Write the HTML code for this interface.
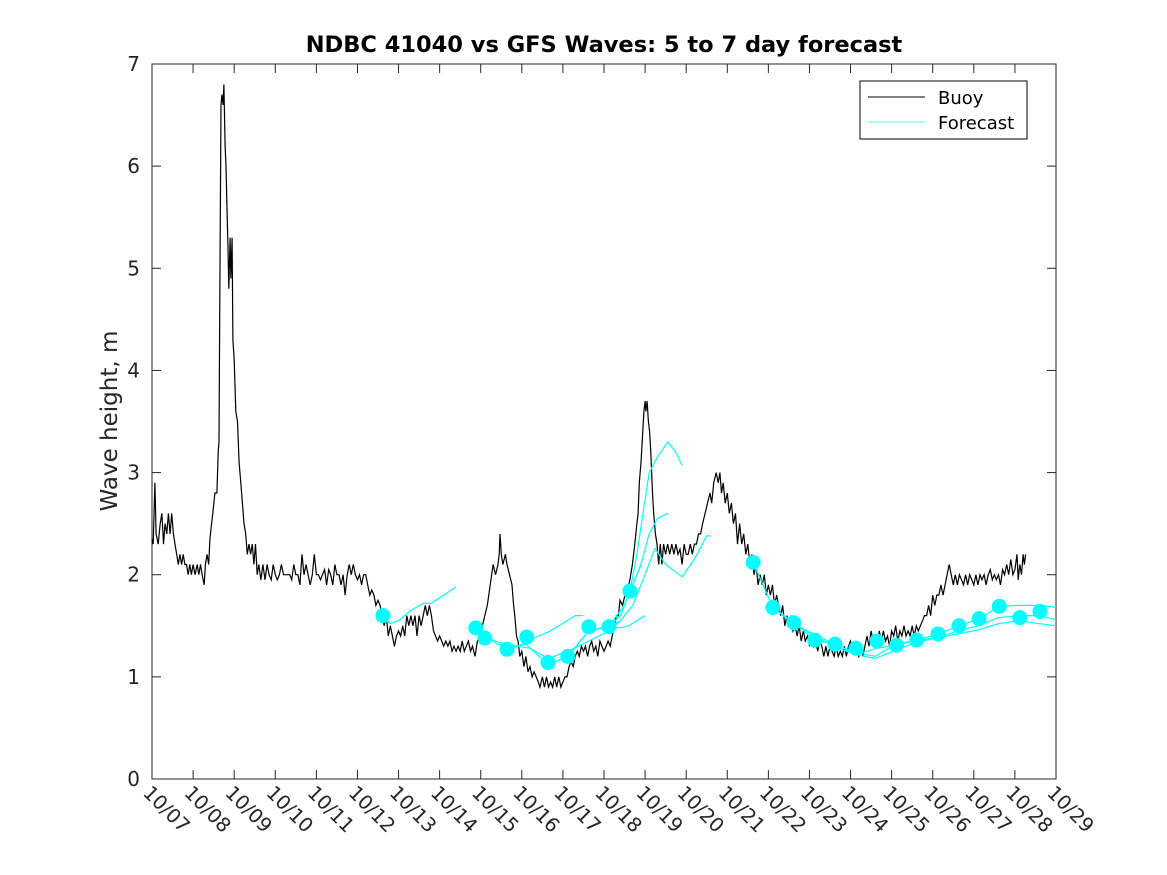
<!DOCTYPE html>
<html><head><meta charset="utf-8"><style>
body{margin:0;background:#fff}
svg{display:block;font-family:"DejaVu Sans","Liberation Sans",sans-serif}
</style></head><body>
<svg id="chart" width="1167" height="875" viewBox="0 0 1167 875">
<rect width="1167" height="875" fill="#fff"/>
<text x="604" y="52" text-anchor="middle" font-size="22.5" font-weight="bold">NDBC 41040 vs GFS Waves: 5 to 7 day forecast</text>
<text transform="translate(117,421) rotate(-90)" text-anchor="middle" font-size="23" fill="#262626">Wave height, m</text>
<g id="axes"></g>
<g id="plot"></g>
<g>
<rect x="860" y="81" width="167" height="58" fill="#fff" stroke="#000" stroke-width="1"/>
<line x1="868" y1="97" x2="925" y2="97" stroke="#000"/>
<text x="938" y="104" font-size="18">Buoy</text>
<line x1="868" y1="122" x2="925" y2="122" stroke="#00ffff" stroke-width="0.8"/>
<text x="938" y="129" font-size="18">Forecast</text>
</g>
</svg>
<script>
const xTickLabels=["10/07","10/08","10/09","10/10","10/11","10/12","10/13","10/14","10/15","10/16","10/17","10/18","10/19","10/20","10/21","10/22","10/23","10/24","10/25","10/26","10/27","10/28","10/29"];
const yTicks=[0,1,2,3,4,5,6,7];
// buoy observations: [day offset from 10/07, wave height m]
const buoy=[[0,2.35],[0.03,2.3],[0.07,2.9],[0.1,2.4],[0.15,2.3],[0.2,2.5],[0.24,2.6],[0.28,2.3],[0.32,2.5],[0.36,2.4],[0.4,2.6],[0.44,2.4],[0.48,2.6],[0.52,2.4],[0.56,2.3],[0.6,2.2],[0.64,2.1],[0.68,2.2],[0.72,2.1],[0.76,2.2],[0.8,2.1],[0.84,2.1],[0.88,2.0],[0.92,2.1],[0.96,2.0],[1.0,2.1],[1.05,2.0],[1.1,2.1],[1.14,2.0],[1.18,2.1],[1.22,2.0],[1.27,1.9],[1.3,2.1],[1.34,2.2],[1.38,2.1],[1.41,2.35],[1.45,2.5],[1.48,2.6],[1.53,2.8],[1.58,2.8],[1.61,3.2],[1.63,3.3],[1.65,4.7],[1.68,6.6],[1.7,6.7],[1.73,6.6],[1.75,6.8],[1.78,6.2],[1.8,6.0],[1.83,5.5],[1.85,5.2],[1.87,4.8],[1.9,5.3],[1.92,4.9],[1.95,5.3],[1.97,4.3],[2.0,4.1],[2.04,3.6],[2.08,3.5],[2.12,3.1],[2.16,2.9],[2.2,2.7],[2.24,2.5],[2.28,2.4],[2.32,2.2],[2.36,2.3],[2.4,2.2],[2.44,2.3],[2.48,2.1],[2.52,2.3],[2.56,2.0],[2.6,2.1],[2.65,1.95],[2.7,2.1],[2.75,1.95],[2.8,2.1],[2.85,2.0],[2.9,1.95],[2.95,2.1],[3.0,2.0],[3.05,1.95],[3.1,2.0],[3.15,2.1],[3.2,2.0],[3.25,2.0],[3.3,2.0],[3.35,2.0],[3.4,1.95],[3.45,2.1],[3.5,2.0],[3.55,2.0],[3.6,1.9],[3.65,2.2],[3.7,2.0],[3.75,2.1],[3.8,2.0],[3.85,1.9],[3.9,2.0],[3.95,2.2],[4.0,2.0],[4.05,2.0],[4.1,1.95],[4.15,2.0],[4.2,2.05],[4.25,1.9],[4.3,2.05],[4.35,2.0],[4.4,1.9],[4.45,2.1],[4.5,2.0],[4.55,2.0],[4.6,1.9],[4.65,2.0],[4.7,1.8],[4.75,2.0],[4.8,2.1],[4.85,2.0],[4.9,2.1],[4.95,2.0],[5.0,1.95],[5.05,2.0],[5.1,1.9],[5.15,2.0],[5.2,2.0],[5.25,1.9],[5.3,1.8],[5.35,1.85],[5.4,1.8],[5.45,1.7],[5.5,1.75],[5.55,1.7],[5.6,1.6],[5.65,1.5],[5.7,1.6],[5.75,1.4],[5.8,1.5],[5.85,1.4],[5.9,1.3],[5.95,1.4],[6.0,1.45],[6.05,1.4],[6.1,1.5],[6.15,1.4],[6.2,1.6],[6.25,1.5],[6.3,1.6],[6.35,1.5],[6.4,1.6],[6.45,1.4],[6.5,1.6],[6.55,1.5],[6.6,1.6],[6.65,1.7],[6.7,1.6],[6.75,1.7],[6.8,1.6],[6.85,1.45],[6.9,1.4],[6.95,1.35],[7.0,1.4],[7.05,1.35],[7.1,1.3],[7.15,1.35],[7.2,1.3],[7.25,1.35],[7.3,1.25],[7.35,1.3],[7.4,1.25],[7.45,1.3],[7.5,1.25],[7.55,1.35],[7.6,1.25],[7.65,1.3],[7.7,1.35],[7.75,1.25],[7.8,1.3],[7.86,1.2],[7.92,1.35],[7.98,1.4],[8.04,1.5],[8.1,1.6],[8.16,1.7],[8.23,1.9],[8.3,2.1],[8.36,2.0],[8.42,2.1],[8.45,2.2],[8.47,2.4],[8.5,2.2],[8.54,2.1],[8.6,2.2],[8.64,2.1],[8.7,2.0],[8.76,1.9],[8.8,1.7],[8.83,1.6],[8.87,1.4],[8.91,1.35],[8.95,1.2],[9.0,1.25],[9.05,1.1],[9.1,1.2],[9.15,1.05],[9.2,1.1],[9.25,1.0],[9.3,1.05],[9.35,1.0],[9.4,0.95],[9.44,0.9],[9.5,1.0],[9.55,0.9],[9.6,1.0],[9.65,0.9],[9.7,0.95],[9.75,0.9],[9.8,1.0],[9.85,0.9],[9.9,1.0],[9.95,0.9],[10.0,0.95],[10.05,1.0],[10.1,1.0],[10.15,1.1],[10.2,1.15],[10.25,1.1],[10.3,1.2],[10.35,1.25],[10.4,1.2],[10.45,1.3],[10.5,1.25],[10.55,1.3],[10.6,1.2],[10.65,1.3],[10.7,1.35],[10.75,1.25],[10.8,1.3],[10.85,1.2],[10.9,1.35],[10.95,1.3],[11.0,1.25],[11.05,1.3],[11.1,1.35],[11.15,1.3],[11.2,1.4],[11.25,1.5],[11.3,1.6],[11.35,1.6],[11.39,1.75],[11.45,1.7],[11.51,1.8],[11.57,1.85],[11.63,1.95],[11.69,2.1],[11.75,2.3],[11.8,2.5],[11.83,2.6],[11.86,2.9],[11.9,3.1],[11.93,3.3],[11.97,3.6],[12.0,3.7],[12.02,3.6],[12.05,3.7],[12.08,3.5],[12.11,3.4],[12.14,3.2],[12.18,2.8],[12.21,2.6],[12.25,2.4],[12.29,2.3],[12.33,2.1],[12.37,2.3],[12.41,2.1],[12.45,2.3],[12.5,2.2],[12.55,2.3],[12.6,2.2],[12.65,2.3],[12.7,2.2],[12.75,2.3],[12.8,2.2],[12.85,2.25],[12.9,2.1],[12.95,2.3],[13.0,2.2],[13.05,2.2],[13.1,2.3],[13.15,2.2],[13.2,2.3],[13.25,2.3],[13.3,2.4],[13.35,2.4],[13.4,2.5],[13.46,2.6],[13.52,2.7],[13.58,2.8],[13.62,2.7],[13.67,2.9],[13.73,3.0],[13.78,2.9],[13.82,3.0],[13.86,2.8],[13.9,2.9],[13.95,2.7],[14.0,2.8],[14.05,2.6],[14.1,2.7],[14.15,2.5],[14.2,2.6],[14.25,2.3],[14.3,2.5],[14.35,2.3],[14.4,2.4],[14.45,2.2],[14.5,2.3],[14.55,2.1],[14.6,2.2],[14.65,2.0],[14.7,2.1],[14.75,1.9],[14.8,2.0],[14.85,1.9],[14.9,2.0],[14.95,1.8],[15.0,1.9],[15.05,1.8],[15.1,1.9],[15.15,1.7],[15.2,1.8],[15.25,1.7],[15.3,1.6],[15.35,1.7],[15.4,1.5],[15.45,1.6],[15.5,1.5],[15.55,1.6],[15.6,1.45],[15.65,1.5],[15.7,1.4],[15.75,1.5],[15.8,1.35],[15.85,1.45],[15.9,1.35],[15.95,1.4],[16.0,1.3],[16.05,1.4],[16.1,1.3],[16.15,1.35],[16.2,1.25],[16.25,1.35],[16.3,1.3],[16.35,1.2],[16.4,1.3],[16.45,1.2],[16.5,1.3],[16.55,1.25],[16.6,1.2],[16.65,1.3],[16.7,1.2],[16.75,1.25],[16.8,1.2],[16.85,1.3],[16.9,1.2],[16.95,1.3],[17.0,1.35],[17.05,1.25],[17.1,1.35],[17.15,1.25],[17.2,1.2],[17.25,1.3],[17.3,1.2],[17.35,1.3],[17.4,1.4],[17.45,1.3],[17.5,1.45],[17.55,1.35],[17.6,1.4],[17.65,1.3],[17.7,1.45],[17.75,1.35],[17.8,1.45],[17.85,1.35],[17.9,1.4],[17.95,1.3],[18.0,1.45],[18.05,1.4],[18.1,1.5],[18.15,1.35],[18.2,1.45],[18.25,1.4],[18.3,1.5],[18.35,1.4],[18.4,1.45],[18.45,1.4],[18.5,1.5],[18.55,1.4],[18.6,1.5],[18.65,1.45],[18.7,1.5],[18.75,1.55],[18.8,1.6],[18.85,1.6],[18.9,1.7],[18.95,1.6],[19.0,1.8],[19.05,1.7],[19.1,1.8],[19.15,1.8],[19.2,1.9],[19.25,1.8],[19.3,1.9],[19.35,2.0],[19.4,2.1],[19.45,2.0],[19.5,1.9],[19.55,2.0],[19.6,1.9],[19.65,2.0],[19.7,1.95],[19.75,1.9],[19.8,2.0],[19.85,1.9],[19.9,2.0],[19.95,1.95],[20.0,1.9],[20.05,2.0],[20.1,1.9],[20.15,2.0],[20.2,1.95],[20.25,2.0],[20.3,1.9],[20.35,2.0],[20.4,2.05],[20.45,1.95],[20.5,2.0],[20.55,1.95],[20.6,2.0],[20.65,1.9],[20.7,2.05],[20.75,2.0],[20.8,2.1],[20.85,2.0],[20.9,2.15],[20.95,2.0],[21.0,2.05],[21.05,2.2],[21.08,1.95],[21.12,2.1],[21.16,2.0],[21.2,2.2],[21.23,2.1],[21.26,2.2]];
// forecast dots
const dotDays=[5.62,7.88,8.1,8.64,9.12,9.64,10.12,10.63,11.12,11.63,14.63,15.11,15.62,16.13,16.62,17.13,17.64,18.12,18.61,19.13,19.64,20.13,20.62,21.12,21.61];
const dotValues=[1.6,1.48,1.38,1.27,1.39,1.14,1.2,1.49,1.49,1.84,2.12,1.68,1.53,1.36,1.32,1.28,1.35,1.31,1.36,1.42,1.5,1.57,1.69,1.58,1.64];
// forecast runs
const runDays=[
 [5.62,5.8,6.0,6.3,6.6,6.8,7.1,7.4],
 [7.88,8.4,8.9,9.3,9.7,10.1,10.3,10.5],
 [8.1,8.6,9.2,9.64,10.12,10.63,11.12,11.4],
 [8.64,9.1,9.64,10.12,10.63,11.12,11.5,11.9],
 [10.12,10.63,11.12,11.4,11.63],
 [11.63,11.8,11.95,12.1,12.3,12.55,12.75,12.9],
 [11.12,11.4,11.63,11.9,12.1,12.3,12.55],
 [11.12,11.4,11.7,12.0,12.24,12.5,12.9,13.2,13.5,13.6],
 [11.12,11.4,11.6,11.8,12.0],
 [14.63,15.11,15.62,16.13,16.62,17.13,17.64,18.12,18.61,19.13,19.64,20.13,20.62,21.12,21.61,22.0],
 [15.11,15.6,16.1,16.6,17.1,17.6,18.1,18.6,19.1,19.6,20.1,20.6,21.1,21.6,22.0],
 [15.62,16.1,16.6,17.1,17.6,18.1,18.6,19.1,19.6,20.1,20.6,21.1,21.6,22.0]
];
const runValues=[
 [1.6,1.52,1.55,1.65,1.72,1.72,1.8,1.88],
 [1.48,1.32,1.3,1.38,1.45,1.55,1.6,1.6],
 [1.38,1.32,1.28,1.18,1.25,1.35,1.45,1.55],
 [1.27,1.32,1.12,1.2,1.45,1.5,1.7,2.1],
 [1.2,1.45,1.49,1.6,1.84],
 [1.84,2.2,2.6,3.0,3.15,3.3,3.2,3.07],
 [1.49,1.6,1.84,2.1,2.4,2.55,2.6],
 [1.49,1.55,1.7,2.0,2.26,2.1,1.98,2.15,2.38,2.38],
 [1.49,1.48,1.5,1.55,1.6],
 [2.12,1.68,1.53,1.36,1.32,1.22,1.28,1.31,1.36,1.42,1.5,1.57,1.69,1.7,1.7,1.68],
 [1.68,1.52,1.42,1.32,1.24,1.2,1.32,1.36,1.38,1.45,1.5,1.58,1.6,1.6,1.56],
 [1.53,1.4,1.3,1.22,1.18,1.26,1.34,1.38,1.42,1.46,1.52,1.55,1.52,1.5]
];
const X0=152,X1=1056,Y0=779,Y1=64;
const xs=d=>X0+d*(X1-X0)/22;
const ys=v=>Y0-v*(Y0-Y1)/7;
const NS="http://www.w3.org/2000/svg";
function mk(tag,attrs,parent){const e=document.createElementNS(NS,tag);for(const k in attrs)e.setAttribute(k,attrs[k]);parent.appendChild(e);return e;}
const axes=document.getElementById('axes'),plot=document.getElementById('plot');
const frame=mk('rect',{x:X0,y:Y1,width:X1-X0,height:Y0-Y1,fill:'none',stroke:'#262626','stroke-width':1},axes);


xTickLabels.forEach((lab,i)=>{
 const x=xs(i);
 const t1=mk('line',{x1:x,y1:Y0,x2:x,y2:Y0-9,stroke:'#262626'},axes);
 
 
 const t2=mk('line',{x1:x,y1:Y1,x2:x,y2:Y1+9,stroke:'#262626'},axes);
 
 
 const tx=mk('text',{transform:`translate(${x-10},${Y0+15}) rotate(45)`,'font-size':19.5,fill:'#262626'},axes);
 tx.textContent=lab;
 
 
});
yTicks.forEach(v=>{
 const y=ys(v);
 const t1=mk('line',{x1:X0,y1:y,x2:X0+9,y2:y,stroke:'#262626'},axes);
 
 
 const t2=mk('line',{x1:X1,y1:y,x2:X1-9,y2:y,stroke:'#262626'},axes);
 
 
 const tx=mk('text',{x:X0-12,y:y+7,'text-anchor':'end','font-size':20,fill:'#262626'},axes);
 tx.textContent=v;
 
 
});
let d='';
buoy.forEach((p,i)=>{d+=(i?'L':'M')+xs(p[0]).toFixed(1)+','+ys(p[1]).toFixed(1);});
const bl=mk('path',{d:d,fill:'none',stroke:'#000','stroke-width':1.2},plot);


runDays.forEach((rd,j)=>{
 let p='';
 rd.forEach((dd,i)=>{p+=(i?'L':'M')+xs(dd).toFixed(1)+','+ys(runValues[j][i]).toFixed(1);});
 const fl=mk('path',{d:p,fill:'none',stroke:'#00ffff','stroke-width':1.2,'stroke-linejoin':'round'},plot);
 
 
});
dotDays.forEach((dd,i)=>{
 const c=mk('circle',{cx:xs(dd),cy:ys(dotValues[i]),r:7.5,fill:'#00ffff'},plot);
 
 
});
</script>
</body></html>
